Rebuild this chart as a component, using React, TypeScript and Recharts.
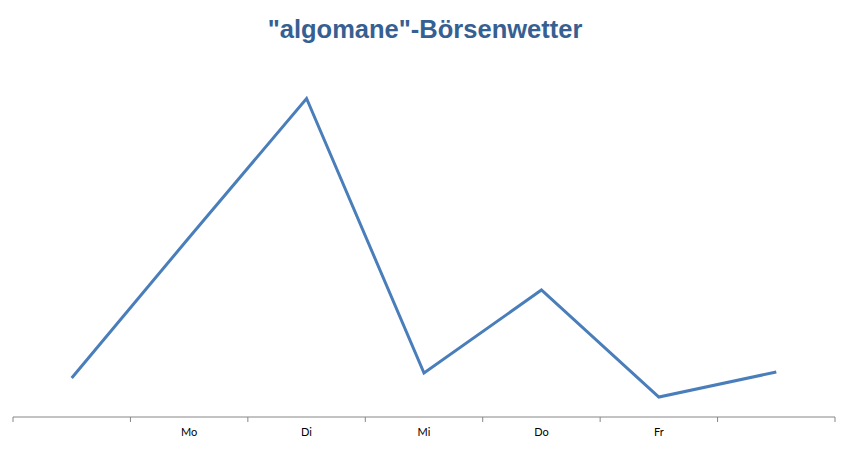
import React from 'react';
import { LineChart, Line, XAxis, YAxis } from 'recharts';

const title = '"algomane"-Börsenwetter';
const categories = ['', 'Mo', 'Di', 'Mi', 'Do', 'Fr', ''];
const values = [39, 179.5, 318.5, 44, 127, 20, 45];
const boundaryTicks = [0, 1, 2, 3, 4, 5, 6, 7];

const data = categories.map((c, i) => ({ pos: i + 0.5, label: c, value: values[i] }));
const tickPositions = [...boundaryTicks, ...data.map((d) => d.pos)].sort((a, b) => a - b);

const AxisTick = (props: any) => {
  const { x, y, payload } = props;
  const v = payload.value as number;
  if (Number.isInteger(v)) {
    return <line x1={x} y1={y} x2={x} y2={y + 5} stroke="#868686" strokeWidth={1} />;
  }
  const idx = Math.floor(v);
  return (
    <text x={x} y={y + 19} textAnchor="middle" fontFamily="Lato, 'Open Sans', sans-serif" fontSize={11} fill="#000">
      {categories[idx]}
    </text>
  );
};

export default function App() {
  return (
    <div style={{ position: 'absolute', left: 0, top: 0, width: 846, height: 449, background: '#fff' }}>
      <div
        style={{
          position: 'absolute',
          left: 0,
          top: 17,
          width: 850,
          textAlign: 'center',
          fontFamily: "'Liberation Sans', Arial, sans-serif",
          fontWeight: 'bold',
          fontSize: 25.5,
          lineHeight: '25.5px',
          color: '#376092',
        }}
      >
        {title}
      </div>
      <LineChart width={846} height={449} data={data} margin={{ top: 57, right: 11, bottom: 0, left: 13 }}>
        <XAxis
          dataKey="pos"
          type="number"
          domain={[0, 7]}
          ticks={tickPositions}
          interval={0}
          tickSize={0}
          tickMargin={0}
          tickLine={false}
          height={32}
          stroke="#868686"
          tick={AxisTick}
        />
        <YAxis type="number" domain={[0, 360]} hide />
        <Line
          type="linear"
          dataKey="value"
          stroke="#4A7EBB"
          strokeWidth={3}
          dot={false}
          activeDot={false}
          isAnimationActive={false}
        />
      </LineChart>
    </div>
  );
}
